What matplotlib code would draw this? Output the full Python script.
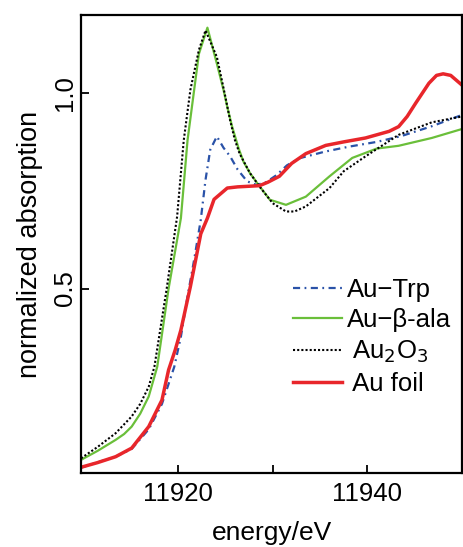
import numpy as np
import matplotlib.pyplot as plt

plt.rcParams['font.family'] = ['Liberation Sans', 'DejaVu Sans']

# Au-Trp (blue dash-dot)
trp_e = [11909.75, 11911.8, 11913.4, 11915.1, 11916.9, 11918.3, 11919.6, 11920.3, 11921.0,
         11921.7, 11922.4, 11922.9, 11923.4, 11924.1, 11924.8, 11925.5, 11926.3, 11927.3,
         11928.3, 11929.3, 11930.4, 11931.5, 11932.8, 11935.5, 11938.1, 11941.0, 11943.6,
         11946.8, 11950.0]
trp_mu = [0.042, 0.058, 0.07, 0.09, 0.14, 0.205, 0.30, 0.377, 0.48,
          0.574, 0.676, 0.778, 0.855, 0.889, 0.86, 0.838, 0.804, 0.774,
          0.765, 0.772, 0.79, 0.815, 0.833, 0.85, 0.863, 0.875, 0.89,
          0.915, 0.944]

# Au-beta-ala (green)
ala_e = [11909.75, 11911.5, 11913.4, 11914.3, 11915.1, 11916.0, 11916.9, 11917.8, 11919.0,
         11920.3, 11921.0, 11921.7, 11922.2, 11923.1, 11924.1, 11924.8, 11925.2, 11925.7,
         11926.4, 11926.9, 11927.6, 11928.5, 11929.7, 11931.4, 11933.5, 11936.0, 11938.4,
         11941.0, 11943.3, 11946.8, 11950.0]
ala_mu = [0.062, 0.085, 0.113, 0.128, 0.147, 0.18, 0.224, 0.30, 0.50,
          0.68, 0.879, 1.008, 1.10, 1.167, 1.075, 1.008, 0.964, 0.915,
          0.858, 0.825, 0.795, 0.765, 0.727, 0.714, 0.735, 0.787, 0.834,
          0.858, 0.865, 0.885, 0.908]

# Au2O3 (black dotted)
ox_e = [11909.75, 11911.5, 11913.4, 11915.1, 11916.0, 11916.9, 11917.5, 11918.8, 11919.9,
        11920.6, 11921.3, 11922.2, 11922.9, 11924.1, 11925.0, 11925.5, 11926.0, 11926.5,
        11927.6, 11928.6, 11930.0, 11931.4, 11932.3, 11933.5, 11936.0, 11937.5, 11939.8,
        11943.3, 11946.8, 11950.0]
ox_mu = [0.066, 0.095, 0.13, 0.173, 0.205, 0.249, 0.30, 0.50, 0.684,
         0.879, 1.008, 1.11, 1.16, 1.092, 0.99, 0.93, 0.88, 0.845,
         0.795, 0.761, 0.718, 0.697, 0.697, 0.71, 0.757, 0.80, 0.838,
         0.893, 0.925, 0.94]

# Au foil (red)
foil_e = [11909.75, 11911.5, 11913.4, 11915.1, 11916.9, 11918.3, 11919.0, 11919.7, 11920.3,
          11921.3, 11922.4, 11923.1, 11923.8, 11925.2, 11926.3, 11928.6, 11929.5, 11930.7,
          11932.0, 11933.5, 11935.6, 11937.5, 11939.8, 11942.3, 11943.3, 11944.2, 11945.1,
          11946.5, 11947.3, 11948.0, 11948.8, 11950.0]
foil_mu = [0.043, 0.055, 0.07, 0.092, 0.147, 0.215, 0.292, 0.343, 0.394,
           0.505, 0.64, 0.68, 0.728, 0.757, 0.76, 0.763, 0.772, 0.787,
           0.82, 0.845, 0.866, 0.875, 0.885, 0.902, 0.914, 0.94, 0.974,
           1.025, 1.045, 1.049, 1.045, 1.02]

fig = plt.figure(figsize=(4.63, 5.47), dpi=100)
ax = fig.add_axes([0.175, 0.135, 0.823, 0.838])

ax.plot(trp_e, trp_mu, color='#2a52a8', lw=1.6, ls=(0, (3.2, 2.0, 0.8, 2.0)), label='Au\u2212Trp')
ax.plot(ala_e, ala_mu, color='#6abf3a', lw=1.6, label='Au\u2212\u03b2-ala')
ax.plot(ox_e, ox_mu, color='black', lw=1.5, ls=(0, (1, 1)), label='\u2009Au$_2$O$_3$')
ax.plot(foil_e, foil_mu, color='#e8262b', lw=2.5, label='\u2009Au foil')

ax.set_xlim(11909.75, 11950)
ax.set_ylim(0.028, 1.2)
ax.set_xticks([11920, 11930, 11940])
ax.set_xticklabels(['11920', '', '11940'])
ax.set_yticks([0.5, 1.0])
ax.set_yticklabels(['0.5', '1.0'], rotation=90, va='center')
ax.tick_params(direction='in', labelsize=18.5, length=6, width=1.3)
ax.tick_params(axis='x', pad=6.5)
ax.tick_params(axis='y', pad=3)
for s in ax.spines.values():
    s.set_linewidth(1.6)

ax.set_xlabel('energy/eV', fontsize=19, labelpad=10.5)
ax.set_ylabel('normalized absorption', fontsize=19.5, labelpad=7)

ax.legend(loc='lower left', bbox_to_anchor=(0.556, 0.168), frameon=False, fontsize=18.5,
          handlelength=1.9, handletextpad=0.2, labelspacing=0.26, borderpad=0,
          borderaxespad=0)

fig.savefig('out.png', dpi=100)
